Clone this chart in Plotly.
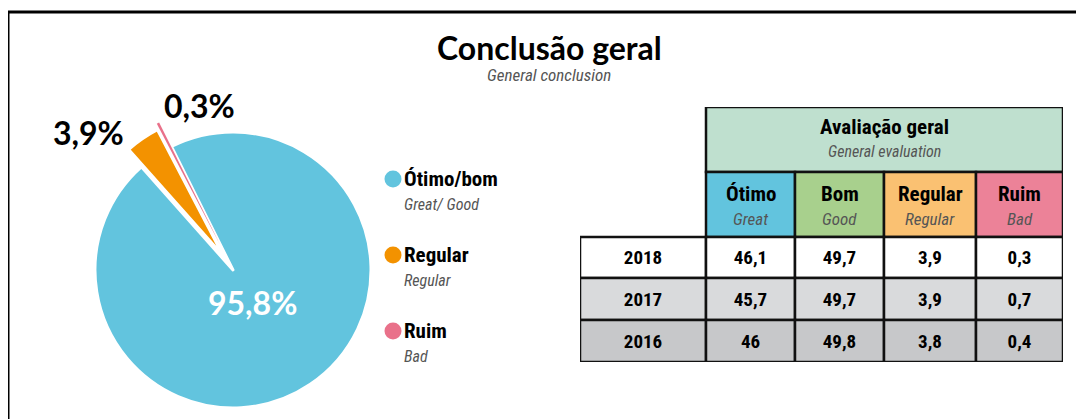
import math
import plotly.graph_objects as go

W, H = 1084, 419        # browser window
OFF = 8                 # default page body margin
FW, FH = W - OFF, H - OFF

# ---------------- data ----------------
categories = ["Ótimo/bom", "Regular", "Ruim"]
categories_en = ["Great/ Good", "Regular", "Bad"]
shares_2018 = [95.8, 3.9, 0.3]

years = ["2018", "2017", "2016"]
eval_cols = ["Ótimo", "Bom", "Regular", "Ruim"]
eval_cols_en = ["Great", "Good", "Regular", "Bad"]
otimo = [46.1, 45.7, 46.0]
bom = [49.7, 49.7, 49.8]
regular = [3.9, 3.9, 3.8]
ruim = [0.3, 0.7, 0.4]

title_pt = "Conclusão geral"
title_en = "General conclusion"
table_title_pt = "Avaliação geral"
table_title_en = "General evaluation"

# ---------------- styles ----------------
pie_colors = ["#62c4de", "#f39200", "#e9718a"]
pie_outline = [3, 2, 0]
head_colors = ["#62c4de", "#a8d08d", "#fac172", "#ec8298"]
head_top_color = "#bfe0cf"
row_fills = ["#ffffff", "#d9dadc", "#c7c8ca"]
COND = "Roboto Condensed, Liberation Sans Narrow, Arial Narrow, DejaVu Sans Condensed, sans-serif"
BOLD = "Lato, Open Sans, sans-serif"
GREY = "#555555"
TRANSP = "rgba(0,0,0,0)"


def fmt(v):
    return ("%g" % v).replace(".", ",")


def fx(x):          # page pixel -> paper x
    return (x - OFF) / FW


def fy(y):          # page pixel -> paper y
    return 1 - (y - OFF) / FH


fig = go.Figure()

# ---------------- pie ----------------
cx, cy, R = 233, 270, 138
rotation = -26.5
pull_px = [0, 21, 27]
total = sum(shares_2018)
cum = 0
for i, v in enumerate(shares_2018):
    mid = rotation + 360 * (cum + v / 2) / total
    cum += v
    t = math.radians(mid)
    ccx = cx + pull_px[i] * math.sin(t)
    ccy = cy - pull_px[i] * math.cos(t)
    colors = [pie_colors[j] if j == i else TRANSP for j in range(len(categories))]
    lcols = ["white" if j == i else TRANSP for j in range(len(categories))]
    fig.add_trace(go.Pie(
        labels=categories, values=shares_2018, sort=False, direction="clockwise",
        rotation=rotation, textinfo="none", hoverinfo="label+value",
        marker=dict(colors=colors, line=dict(width=pie_outline[i], color=lcols)),
        domain=dict(x=[fx(ccx - R), fx(ccx + R)], y=[fy(ccy + R), fy(ccy - R)]),
        showlegend=False,
    ))

annotations = []


def ann_px(x, y, text, font, **kw):
    d = dict(x=fx(x), y=fy(y), xref="paper", yref="paper", showarrow=False,
             xanchor="center", yanchor="middle", text=text, font=font)
    d.update(kw)
    annotations.append(d)


pie_text_pos = [(252, 302, "white"), (88, 133, "black"), (199, 106, "black")]
for (x, y, c), v in zip(pie_text_pos, shares_2018):
    ann_px(x, y, "<b>%s%%</b>" % fmt(v), dict(family=BOLD, size=32, color=c))

# title
ann_px(549, 47, "<b>%s</b>" % title_pt, dict(family=BOLD, size=32, color="black"))
ann_px(549, 75, "<i>%s</i>" % title_en, dict(family=COND, size=17, color=GREY))

# ---------------- legend (xaxis / yaxis) ----------------
leg_x, leg_y0, leg_step = 393, 179, 76
fig.add_trace(go.Scatter(
    x=["m"] * len(categories), y=categories, mode="markers",
    marker=dict(size=17, color=pie_colors), showlegend=False, hoverinfo="skip",
    xaxis="x", yaxis="y"))
for cat, en in zip(categories, categories_en):
    annotations.append(dict(x=0, y=cat, xref="x", yref="y", xanchor="left", yanchor="middle",
                            showarrow=False, xshift=9, text="<b>%s</b>" % cat,
                            font=dict(family=COND, size=21, color="black")))
    annotations.append(dict(x=0, y=cat, xref="x", yref="y", xanchor="left", yanchor="middle",
                            showarrow=False, xshift=9, yshift=-25, text="<i>%s</i>" % en,
                            font=dict(family=COND, size=16, color=GREY)))

# ---------------- table (xaxis2 / yaxis2) ----------------
T_LEFT, T_RIGHT, T_TOP, T_BOTTOM = 580, 1063, 107, 362
col_w = [126, 89, 89, 92, 87]
row_h = [65, 65, 41, 42, 42]  # header1, header2, data rows (top->bottom)
col_edges = [0]
for w in col_w:
    col_edges.append(col_edges[-1] + w)
tot_h = sum(row_h)
row_edges = [tot_h]
for h in row_h:
    row_edges.append(row_edges[-1] - h)

shapes = []
LINE = dict(color="#111111", width=2.5)


def cell(c0, c1, r, fill):
    shapes.append(dict(type="rect", xref="x2", yref="y2",
                       x0=col_edges[c0], x1=col_edges[c1],
                       y0=row_edges[r + 1], y1=row_edges[r],
                       fillcolor=fill, line=LINE, layer="below"))


def cxm(c0, c1):
    return (col_edges[c0] + col_edges[c1]) / 2


def rym(r):
    return (row_edges[r] + row_edges[r + 1]) / 2


def ann_tab(x, y, text, font, yshift=0):
    annotations.append(dict(x=x, y=y, xref="x2", yref="y2", showarrow=False,
                            xanchor="center", yanchor="middle", yshift=yshift,
                            text=text, font=font))


# header row 1
cell(1, 5, 0, head_top_color)
ann_tab(cxm(1, 5), rym(0), "<b>%s</b>" % table_title_pt,
        dict(family=COND, size=21, color="black"), 13)
ann_tab(cxm(1, 5), rym(0), "<i>%s</i>" % table_title_en,
        dict(family=COND, size=16, color=GREY), -12)
# header row 2
for j, (pt, en) in enumerate(zip(eval_cols, eval_cols_en)):
    cell(j + 1, j + 2, 1, head_colors[j])
    ann_tab(cxm(j + 1, j + 2), rym(1), "<b>%s</b>" % pt,
            dict(family=COND, size=21, color="black"), 11)
    ann_tab(cxm(j + 1, j + 2), rym(1), "<i>%s</i>" % en,
            dict(family=COND, size=17, color=GREY), -14)

# data rows
series = [otimo, bom, regular, ruim]
tx, ty, tt = [], [], []
for i, yr in enumerate(years):
    r = i + 2
    for c in range(5):
        cell(c, c + 1, r, row_fills[i])
    tx.append(cxm(0, 1)); ty.append(rym(r) - 2); tt.append("<b>%s</b>" % yr)
    for j, s in enumerate(series):
        tx.append(cxm(j + 1, j + 2)); ty.append(rym(r) - 2); tt.append("<b>%s</b>" % fmt(s[i]))
fig.add_trace(go.Scatter(x=tx, y=ty, text=tt, mode="text", textposition="middle center",
                         textfont=dict(family=COND, size=19, color="black"),
                         xaxis="x2", yaxis="y2", showlegend=False, hoverinfo="skip"))

# frame
shapes.append(dict(type="line", xref="paper", yref="paper", x0=fx(7), x1=1,
                   y0=fy(12), y1=fy(12), line=dict(color="black", width=3)))
shapes.append(dict(type="line", xref="paper", yref="paper", x0=fx(8), x1=fx(8),
                   y0=0, y1=fy(11), line=dict(color="black", width=3)))

fig.update_layout(
    width=FW, height=FH, margin=dict(l=0, r=0, t=0, b=0),
    paper_bgcolor="white", plot_bgcolor="rgba(0,0,0,0)",
    xaxis=dict(type="category", domain=[0, 1], visible=False, fixedrange=True,
               range=[(OFF - leg_x) / leg_step, (W - leg_x) / leg_step]),
    yaxis=dict(type="category", domain=[0, 1], visible=False, fixedrange=True,
               categoryorder="array", categoryarray=categories,
               range=[(H - leg_y0) / leg_step, (OFF - leg_y0) / leg_step]),
    xaxis2=dict(domain=[fx(T_LEFT), fx(T_RIGHT)], range=[0, col_edges[-1]], visible=False,
                anchor="y2", fixedrange=True),
    yaxis2=dict(domain=[fy(T_BOTTOM), fy(T_TOP)], range=[0, tot_h], visible=False,
                anchor="x2", fixedrange=True),
    shapes=shapes, annotations=annotations, showlegend=False,
)

fig.write_html("out.html")
